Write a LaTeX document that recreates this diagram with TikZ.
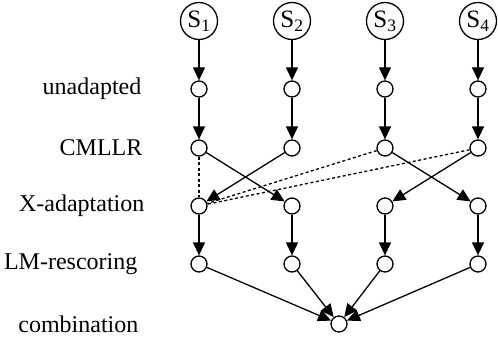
\documentclass[tikz,border=0pt]{standalone}
\usepackage{fontspec}
\setmainfont{Liberation Serif}
\usetikzlibrary{arrows.meta}

\begin{document}
\begin{tikzpicture}[x=1pt, y=-1pt, line width=1.3pt, ->, >={Triangle[length=13pt, width=12pt]},
    spk/.style={draw, circle, minimum size=37pt, inner sep=0pt, font=\fontsize{25}{28}\selectfont},
    hyp/.style={draw, circle, minimum size=16pt, inner sep=0pt},
    stage/.style={anchor=east, inner sep=0pt, font=\fontsize{24}{28}\selectfont},
    link/.style={-, dash pattern=on 3pt off 2.5pt}]
    \useasboundingbox (0,0) rectangle (498,337);

    \node[spk] at (199, 21) (s 1) {S\textsubscript{1}};
    \node[spk] at (292, 21) (s 2) {S\textsubscript{2}};
    \node[spk] at (385, 21) (s 3) {S\textsubscript{3}};
    \node[spk] at (478, 21) (s 4) {S\textsubscript{4}};

    \node[stage] at (142, 89) (t 1)  {unadapted};
    \node[stage] at (143, 148) (t 2) {CMLLR};
    \node[stage] at (145, 206) (t 3) {X-adaptation};
    \node[stage] at (138, 264) (t 4) {LM-rescoring};
    \node[stage] at (139, 324) (t 5) {combination};

    \foreach \x/\c in {1/199, 2/292, 3/385, 4/478} {
      \node[hyp] at (\c, 89) (n 1 \x) {};
      \node[hyp] at (\c, 148) (n 2 \x) {};
      \node[hyp] at (\c, 206) (n 3 \x) {};
      \node[hyp] at (\c, 264) (n 4 \x) {};
    }
    \node[hyp] at (339, 324) (comb) {};

    \foreach \x in {1,2,3,4} {
      \draw (s \x) -- (n 1 \x);
      \draw (n 1 \x) -- (n 2 \x);
      \draw (n 3 \x) -- (n 4 \x);
      \draw (n 4 \x) -- (comb);
    }

    \draw (n 2 1) -- (n 3 2);
    \draw (n 2 2) -- (n 3 1);
    \draw (n 2 3) -- (n 3 4);
    \draw (n 2 4) -- (n 3 3);

    \foreach \y in {1,3,4}
    \draw[link] (n 2 \y) -- (n 3 1);

  \end{tikzpicture}
\end{document}
